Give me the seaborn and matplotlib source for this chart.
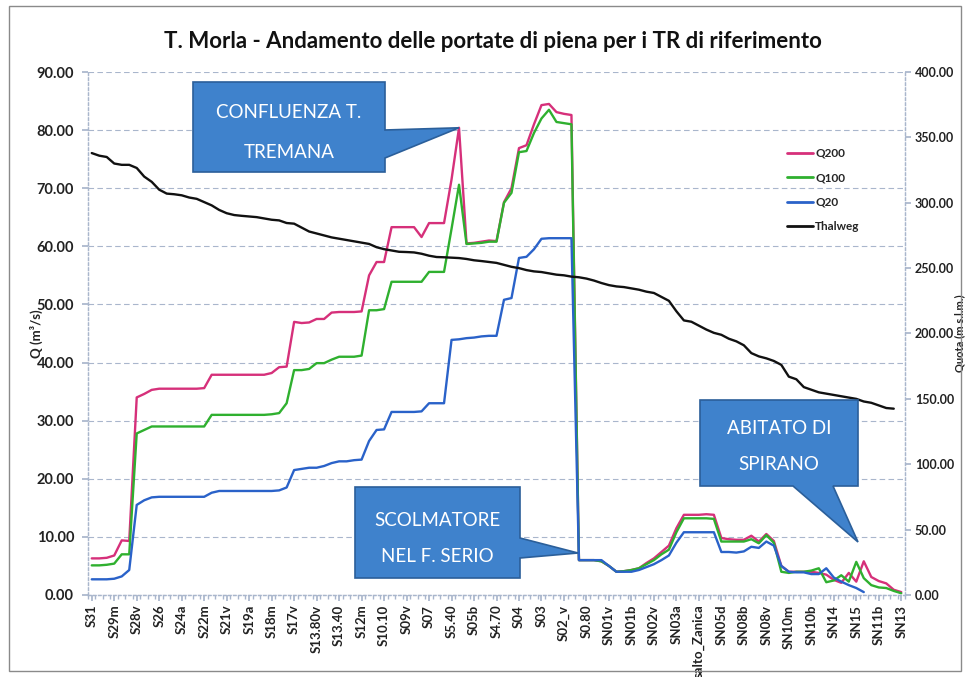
import numpy as np
import pandas as pd
import matplotlib
matplotlib.use("Agg")
import matplotlib.pyplot as plt
import seaborn as sns
from matplotlib.patches import Polygon, Rectangle
from matplotlib.lines import Line2D

# ---------------- data ----------------
tick_labels = ["S31", "S29m", "S28v", "S26", "S24a", "S22m", "S21v", "S19a", "S18m",
               "S17v", "S13.80v", "S13.40", "S12m", "S10.10", "S09v", "S07", "S5.40",
               "S05b", "S4.70", "S04", "S03", "S02_v", "S0.80", "SN01v", "SN01b",
               "SN02v", "SN03a", "salto_Zanica", "SN05d", "SN08b", "SN08v", "SN10m",
               "SN10b", "SN14", "SN15", "SN11b", "SN13"]
label_step = 3  # one labelled section every 3 cross-sections

q200 = [6.3, 6.3, 6.4, 6.8, 9.4, 9.3, 34.0, 34.6, 35.3, 35.5,
        35.5, 35.5, 35.5, 35.5, 35.5, 35.6, 37.9, 37.9, 37.9, 37.9,
        37.9, 37.9, 37.9, 37.9, 38.2, 39.2, 39.3, 47.0, 46.8, 46.9,
        47.5, 47.5, 48.6, 48.7, 48.7, 48.7, 48.8, 55.0, 57.3, 57.3,
        63.3, 63.3, 63.3, 63.3, 61.6, 64.0, 64.0, 64.0, 71.5, 80.4,
        60.5, 60.6, 60.8, 61.0, 60.9, 67.6, 70.0, 76.9, 77.4, 81.0,
        84.3, 84.5, 83.1, 82.8, 82.6, 6.0, 6.0, 6.0, 5.8, 5.0,
        4.0, 4.1, 4.3, 4.6, 5.5, 6.3, 7.4, 8.5, 11.5, 13.8,
        13.8, 13.8, 13.9, 13.8, 9.8, 9.6, 9.5, 9.5, 10.2, 9.2,
        10.5, 9.3, 5.0, 4.0, 4.0, 4.0, 4.0, 3.8, 3.5, 2.6,
        2.1, 3.8, 2.3, 5.8, 3.1, 2.4, 2.0, 0.9, 0.5]

q100 = [5.1, 5.1, 5.2, 5.4, 7.0, 7.0, 27.8, 28.4, 29.0, 29.0,
        29.0, 29.0, 29.0, 29.0, 29.0, 29.0, 31.0, 31.0, 31.0, 31.0,
        31.0, 31.0, 31.0, 31.0, 31.1, 31.3, 33.0, 38.7, 38.7, 38.9,
        39.9, 39.9, 40.5, 41.0, 41.0, 41.0, 41.2, 49.0, 49.0, 49.2,
        53.9, 53.9, 53.9, 53.9, 53.9, 55.6, 55.6, 55.6, 63.0, 70.6,
        60.4, 60.5, 60.6, 60.8, 60.8, 67.5, 69.2, 76.2, 76.4, 79.5,
        82.0, 83.5, 81.4, 81.2, 81.0, 6.0, 6.0, 6.0, 5.8, 5.0,
        4.0, 4.1, 4.3, 4.6, 5.3, 6.0, 7.0, 7.8, 10.8, 13.2,
        13.2, 13.2, 13.2, 13.1, 9.2, 9.2, 9.2, 9.2, 9.6, 8.9,
        10.3, 9.0, 4.0, 3.8, 4.0, 4.0, 4.2, 4.6, 2.2, 2.5,
        3.4, 2.3, 5.7, 2.9, 1.7, 1.3, 1.2, 0.7, 0.3]

q20 = [2.7, 2.7, 2.7, 2.8, 3.2, 4.3, 15.5, 16.3, 16.8, 16.9,
       16.9, 16.9, 16.9, 16.9, 16.9, 16.9, 17.6, 17.9, 17.9, 17.9,
       17.9, 17.9, 17.9, 17.9, 17.9, 18.0, 18.5, 21.5, 21.7, 21.9,
       21.9, 22.2, 22.7, 23.0, 23.0, 23.2, 23.3, 26.5, 28.4, 28.5,
       31.5, 31.5, 31.5, 31.5, 31.6, 33.0, 33.0, 33.0, 43.9, 44.0,
       44.2, 44.3, 44.5, 44.6, 44.6, 50.8, 51.1, 58.0, 58.2, 59.5,
       61.3, 61.4, 61.4, 61.4, 61.4, 6.0, 6.0, 6.0, 6.0, 5.0,
       4.0, 4.0, 4.0, 4.3, 4.8, 5.3, 6.0, 6.8, 9.0, 10.8,
       10.8, 10.8, 10.8, 10.8, 7.4, 7.4, 7.3, 7.5, 8.3, 8.1,
       9.2, 8.5, 5.0, 4.0, 3.9, 3.9, 3.6, 3.6, 4.6, 3.0,
       2.3, 1.7, 1.2, 0.5, np.nan, np.nan, np.nan, np.nan, np.nan]

thalweg = [338, 336, 335, 330, 329, 329, 326.6, 320, 316, 310,
           307, 306.5, 305.7, 304, 303, 300.5, 298, 294.5, 292, 290.6,
           290, 289.5, 289, 288, 287, 286.5, 284.5, 284, 281, 278,
           276.5, 275, 273.5, 272.5, 271.5, 270.5, 269.5, 268.5, 266, 264.5,
           263.5, 262.5, 262.3, 262, 261, 259.5, 258.5, 258.3, 258, 257.7,
           257, 256, 255.4, 254.7, 254, 252.5, 251, 250, 248.5, 247.5,
           247, 246, 245, 244.5, 243.5, 243, 242, 240.5, 238.6, 237,
           236, 235.5, 234.5, 233.5, 232, 231, 228, 225, 217, 210,
           209, 206, 203, 200.5, 199, 196, 194, 191, 185, 182.5,
           181, 179, 176, 167, 165, 159, 157, 155, 154, 153,
           152, 151, 150, 148, 147, 145, 143, 142.5, np.nan]

series_names = ["Q200", "Q100", "Q20"]
colors = {"Q200": "#d6307a", "Q100": "#2fb02f", "Q20": "#2a62c9", "Thalweg": "#111111"}

n = len(q200)
idx = np.arange(n)
df_q = pd.concat([
    pd.DataFrame({"sez": idx, "Q": vals, "serie": name})
    for name, vals in zip(series_names, [q200, q100, q20])
], ignore_index=True)
df_t = pd.DataFrame({"sez": idx, "quota": thalweg, "serie": "Thalweg"})

# ---------------- figure ----------------
W, H = 966, 677
sns.set_theme(style="white")
plt.rcParams["font.family"] = ["Lato", "DejaVu Sans"]

fig = plt.figure(figsize=(W / 100, H / 100), dpi=100)
L, R, T, B = 88, 905, 72, 595
ax = fig.add_axes([L / W, 1 - B / H, (R - L) / W, (B - T) / H])
ax2 = ax.twinx()

sns.lineplot(data=df_q, x="sez", y="Q", hue="serie", palette=colors,
             hue_order=series_names, ax=ax, legend=False, linewidth=1.7, sort=False)
sns.lineplot(data=df_t, x="sez", y="quota", color=colors["Thalweg"],
             ax=ax2, legend=False, linewidth=1.7, sort=False)

ax.set_xlim(-0.5, n - 0.5)
ax.set_ylim(0, 90)
ax2.set_ylim(0, 400)
ax.set_yticks(np.arange(0, 91, 10))
ax.set_yticklabels([f"{v:.2f}" for v in np.arange(0, 91, 10)])
ax2.set_yticks(np.arange(0, 401, 50))
ax2.set_yticklabels([f"{v:.2f}" for v in np.arange(0, 401, 50)])

label_pos = idx[::label_step]
ax.set_xticks(label_pos)
ax.set_xticklabels(tick_labels, rotation=90)
ax.set_xticks(np.arange(-0.5, n, 1), minor=True)

grid_c = "#a9b6cc"
ax.yaxis.grid(True, color=grid_c, linestyle=(0, (5, 3)), linewidth=0.8)
ax.xaxis.grid(False)
ax2.grid(False)
for a in (ax, ax2):
    for s in a.spines.values():
        s.set_color(grid_c)
        s.set_linestyle((0, (2, 2)))
        s.set_linewidth(0.9)
    a.spines["top"].set_visible(False)
    a.set_xlabel("")

ax.tick_params(axis="x", which="major", length=4, color=grid_c, pad=3,
               labelsize=9.5, labelcolor="#222222", bottom=True)
ax.tick_params(axis="x", which="minor", length=3, color=grid_c, bottom=True)
ax.tick_params(axis="y", length=4, color=grid_c, labelsize=10.5, labelcolor="#222222", left=True, pad=6)
ax2.tick_params(axis="y", length=4, color=grid_c, labelsize=9, labelcolor="#222222", right=True, pad=3)
for lab in ax.get_xticklabels() + ax.get_yticklabels() + ax2.get_yticklabels():
    lab.set_fontweight("bold")

ax.set_ylabel("Q (m³/s)", fontsize=9.5, fontweight="bold", color="#222222")
ax.yaxis.set_label_coords(-0.055, 0.5)
ax2.set_ylabel("Quota (m s.l.m.)", fontsize=8, fontweight="bold", color="#222222")
ax2.yaxis.set_label_coords((954 - L) / (R - L), 0.5)

fig.text(0.5 * (163 + 822) / W, 1 - 42 / H,
         "T. Morla - Andamento delle portate di piena per i TR di riferimento",
         ha="center", va="center", fontsize=16, fontweight="bold", color="#111111")

# legend
handles = [Line2D([], [], color=colors[k], linewidth=2) for k in ["Q200", "Q100", "Q20", "Thalweg"]]
fig.legend(handles, ["Q200", "Q100", "Q20", "Thalweg"], loc="upper left",
           bbox_to_anchor=(782 / W, 1 - 143 / H), frameon=False,
           prop={"size": 8.5, "weight": "bold"}, handlelength=2.2, handletextpad=0.2,
           labelspacing=1.15, borderaxespad=0)

# ---------------- callouts ----------------
def fpx(x, y):
    return (x / W, 1 - y / H)

def data_to_px(a, x, y):
    fig.canvas.draw()
    X, Y = a.transData.transform((x, y))
    return X, H - Y

box_face = "#3f82cc"
box_edge = "#2b5f9a"

def callout(verts, lines, cx, ys, size=13.5):
    poly = Polygon([fpx(*v) for v in verts], closed=True, transform=fig.transFigure,
                   facecolor=box_face, edgecolor=box_edge, linewidth=1.2, zorder=10)
    fig.add_artist(poly)
    for txt, yy in zip(lines, ys):
        fig.text(*fpx(cx, yy), txt, ha="center", va="center", color="white",
                 fontsize=size, zorder=11)

peak_i = int(np.nanargmax(q200[:55]))
tipx, tipy = data_to_px(ax, peak_i, q200[peak_i])
callout([(193, 82), (385, 82), (385, 130), (tipx, tipy), (385, 158), (385, 172), (193, 172)],
        ["CONFLUENZA T.", "TREMANA"], 289, [113, 152])
callout([(355, 487), (520, 487), (520, 538), (578, 553), (520, 558), (520, 578), (355, 578)],
        ["SCOLMATORE", "NEL F. SERIO"], 437, [521, 556])
callout([(700, 400), (858, 400), (858, 486), (833, 486), (858, 542), (793, 486), (700, 486)],
        ["ABITATO DI", "SPIRANO"], 779, [428, 465])

# outer frame of the chart area
fig.add_artist(Rectangle(fpx(9, 671), 952 / W, 665 / H, transform=fig.transFigure,
                         fill=False, edgecolor="#8a8a8a", linewidth=1.0, zorder=12))

fig.savefig("out.png", dpi=100)
